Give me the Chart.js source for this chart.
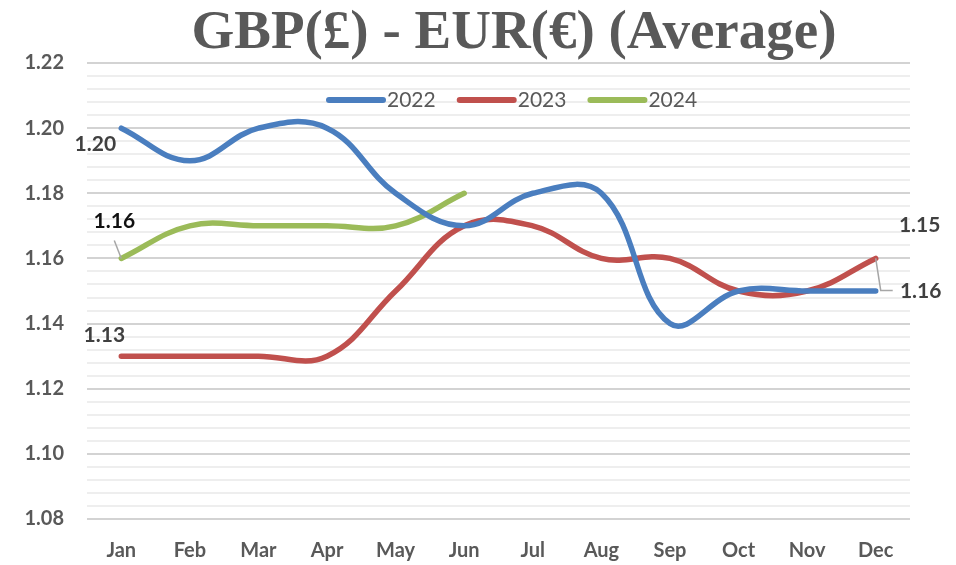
<!DOCTYPE html>
<html>
<head>
<meta charset="utf-8">
<script src="https://cdn.jsdelivr.net/npm/chart.js@4/dist/chart.umd.min.js"></script>
<style>
html,body{margin:0;padding:0;background:#fff;}
#wrap{width:956px;height:565px;}
</style>
</head>
<body>
<div id="wrap"><canvas id="c" width="956" height="565"></canvas></div>
<script>
const months = ['Jan','Feb','Mar','Apr','May','Jun','Jul','Aug','Sep','Oct','Nov','Dec'];
const series2022 = [1.20,1.19,1.20,1.20,1.18,1.17,1.18,1.18,1.14,1.15,1.15,1.15];
const series2023 = [1.13,1.13,1.13,1.13,1.15,1.17,1.17,1.16,1.16,1.15,1.15,1.16];
const series2024 = [1.16,1.17,1.17,1.17,1.17,1.18];
const seriesNames = ['2022','2023','2024'];
const titleText = 'GBP(£) - EUR(€) (Average)';
const yMin = 1.08, yMax = 1.22, yMajor = 0.02, yMinor = 0.004;
// data label texts as shown: [datasetIndex, pointIndex, text]
const pointLabels = [
  [0, 0, '1.20'],
  [1, 0, '1.13'],
  [2, 0, '1.16'],
  [0, 11, '1.15'],
  [1, 11, '1.16']
];

const colors = ['#4A7EBF', '#C0504D', '#9BBB59'];
const textColor = '#595959';

function isMajor(v){ return Math.abs(v/yMajor - Math.round(v/yMajor)) < 1e-6; }

// label placement (offsets from point, in px) + optional leader line
const labelStyle = [
  {dx:-26, dy:16, color:'#404040'},
  {dx:-17, dy:-21, color:'#404040'},
  {dx:-7, dy:-37, color:'#111111', leader:[[-7,-18],[0,0]]},
  {dx:44, dy:-66, color:'#404040'},
  {dx:45, dy:33, color:'#404040', leader:[[0,0],[5,32],[17,32]]}
];

const overlay = {
  id:'overlay',
  afterDatasetsDraw(chart){
    const ctx = chart.ctx;
    ctx.save();
    // title
    ctx.fillStyle = textColor;
    ctx.font = 'bold 55px "Liberation Serif"';
    ctx.textAlign = 'center';
    ctx.textBaseline = 'alphabetic';
    ctx.fillText(titleText, 514, 48);
    // legend
    ctx.font = '21px Lato';
    ctx.textBaseline = 'middle';
    ctx.textAlign = 'left';
    let x = 329;
    const ly = 100;
    seriesNames.forEach((n,i)=>{
      ctx.strokeStyle = colors[i];
      ctx.lineWidth = 6;
      ctx.lineCap = 'round';
      ctx.beginPath(); ctx.moveTo(x, ly); ctx.lineTo(x+54, ly); ctx.stroke();
      ctx.fillStyle = textColor;
      ctx.fillText(n, x+58, ly);
      x += 58 + ctx.measureText(n).width + 24;
    });
    // data labels
    ctx.font = 'bold 21px Lato';
    ctx.textAlign = 'center';
    pointLabels.forEach((pl,k)=>{
      const pt = chart.getDatasetMeta(pl[0]).data[pl[1]];
      const st = labelStyle[k];
      if (st.leader){
        ctx.strokeStyle = '#a6a6a6';
        ctx.lineWidth = 1.5;
        ctx.lineCap = 'butt';
        ctx.beginPath();
        st.leader.forEach((p,j)=>{ if(j===0) ctx.moveTo(pt.x+p[0], pt.y+p[1]); else ctx.lineTo(pt.x+p[0], pt.y+p[1]); });
        ctx.stroke();
      }
      ctx.fillStyle = st.color;
      ctx.fillText(pl[2], pt.x+st.dx, pt.y+st.dy);
    });
    ctx.restore();
  }
};

new Chart(document.getElementById('c'), {
  type:'line',
  data:{
    labels: months,
    datasets:[series2022, series2023, series2024].map((d,i)=>({
      label: seriesNames[i],
      data: d,
      borderColor: colors[i],
      backgroundColor: colors[i],
      borderWidth: 5.5,
      borderCapStyle: 'round',
      borderJoinStyle: 'round',
      pointRadius: 0,
      pointHoverRadius: 0,
      tension: 0.4,
      fill: false
    }))
  },
  options:{
    responsive:false,
    animation:false,
    events:[],
    layout:{padding:{top:63, right:46, bottom:0, left:0}},
    plugins:{legend:{display:false}, title:{display:false}, tooltip:{enabled:false}},
    scales:{
      x:{
        offset:true,
        grid:{display:false, drawTicks:false},
        border:{display:false},
        ticks:{color:textColor, font:{family:'Lato', size:20, weight:'bold'}, padding:20, maxRotation:0, autoSkip:false},
        afterFit(s){ s.height = 46; }
      },
      y:{
        min:yMin, max:yMax,
        grid:{
          drawTicks:false,
          color:(c)=> isMajor(c.tick.value) ? '#d3d3d3' : '#eeeeee',
          lineWidth:2
        },
        border:{display:false},
        ticks:{
          stepSize:yMinor, autoSkip:false, maxTicksLimit:200,
          color:textColor, font:{family:'Lato', size:20, weight:'bold'}, padding:23,
          callback:(v)=> isMajor(v) ? v.toFixed(2) : ''
        },
        afterFit(s){ s.width = 87; }
      }
    }
  },
  plugins:[overlay]
});
</script>
</body>
</html>
